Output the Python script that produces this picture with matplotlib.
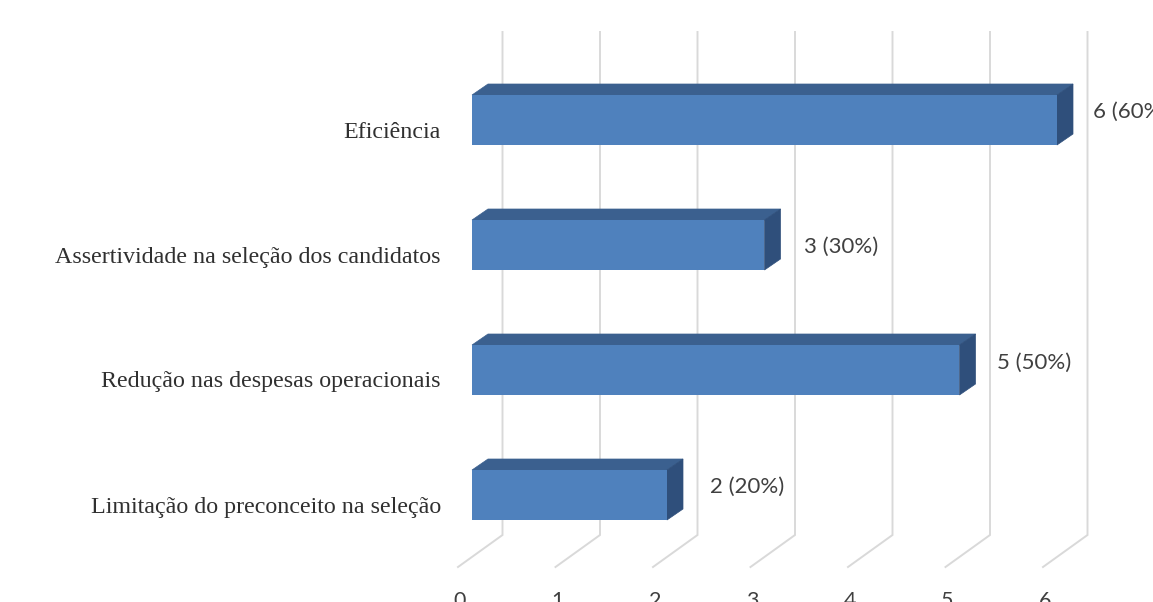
import matplotlib
matplotlib.use('Agg')
import matplotlib.pyplot as plt
from matplotlib.patches import Polygon

categories = ['Limitação do preconceito na seleção', 'Redução nas despesas operacionais',
              'Assertividade na seleção dos candidatos', 'Eficiência']
values = [2, 5, 3, 6]
value_labels = ['2 (20%)', '5 (50%)', '3 (30%)', '6 (60%)']
x_ticks = [0, 1, 2, 3, 4, 5, 6]

# tamanho de uma unidade em pixels
px_x = 97.5
px_y = 125.0

fig = plt.figure(figsize=(11.53, 6.02), dpi=100)
ax = fig.add_axes([0, 0, 1, 1])
ax.set_xlim(-472 / px_x, (1153 - 472) / px_x)
ax.set_ylim((495 - 602) / px_y, 495 / px_y)
ax.axis('off')

# grade em perspectiva (parede e chao)
wall_dx = 30.5 / px_x
floor_dx = 14 / px_x
floor_top = (495 - 535) / px_y
floor_bottom = (495 - 567) / px_y
wall_top = (495 - 32) / px_y
for t in x_ticks:
    ax.plot([t + wall_dx, t + wall_dx, t - floor_dx], [wall_top, floor_top, floor_bottom],
            color='#d9d9d9', linewidth=1.4, solid_joinstyle='miter', zorder=1)
    ax.text(t - floor_dx + 2 / px_x, (495 - 601) / px_y, str(t), ha='center', va='center',
            fontsize=15.5, family='Lato', color='#404040')

# barras 3D: frente, topo e lateral
bar_h = 50 / px_y
dx = 16 / px_x
dy = 11 / px_y
for i, v in enumerate(values):
    top = i + bar_h / 2
    low = i - bar_h / 2
    ax.add_patch(Polygon([(0, top), (dx, top + dy), (v + dx, top + dy), (v, top)],
                         closed=True, facecolor='#3b608f', edgecolor='#3b608f', linewidth=0.5, zorder=3))
    ax.add_patch(Polygon([(v, top), (v + dx, top + dy), (v + dx, low + dy), (v, low)],
                         closed=True, facecolor='#2f4f7b', edgecolor='#2f4f7b', linewidth=0.5, zorder=3))
    ax.barh(i, v, height=bar_h, left=0, color='#4f81bd', zorder=4)

# rotulos das categorias
for i, c in enumerate(categories):
    ax.annotate(c, (0, i), xytext=(-31, -12), textcoords='offset pixels', ha='right', va='center',
                fontsize=17.3, family='Liberation Serif', color='#303030')

# rotulos de valor
label_dx = [43, 38, 40, 36]
label_dy = [8, 7, -2, 8]
for i, v in enumerate(values):
    ax.annotate(value_labels[i], (v, i), xytext=(label_dx[i], label_dy[i]), textcoords='offset pixels',
                ha='left', va='center', fontsize=16, family='Lato', color='#404040')

fig.savefig('out.png', dpi=100)
plt.close(fig)
